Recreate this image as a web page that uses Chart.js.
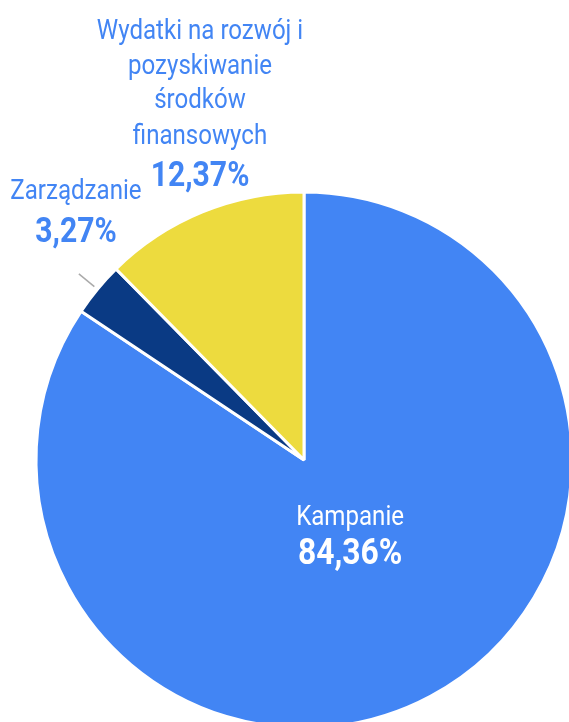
<!DOCTYPE html>
<html><head><meta charset="utf-8">
<script src="https://cdn.jsdelivr.net/npm/chart.js@4"></script>
<style>
html,body{margin:0;padding:0;background:#fff;}
#wrap{width:569px;height:722px;overflow:hidden;position:relative;}
canvas{display:block;}
</style></head>
<body><div id="wrap"><canvas id="c" width="620" height="760"></canvas></div>
<script>
const categories = ["Kampanie", "Zarządzanie", "Wydatki na rozwój i pozyskiwanie środków finansowych"];
const values = [84.36, 3.27, 12.37];
const labelLines = [["Kampanie"], ["Zarządzanie"], ["Wydatki na rozwój i", "pozyskiwanie", "środków", "finansowych"]];
const percentLabels = ["84,36%", "3,27%", "12,37%"];
const colors = ["#4285F4", "#0A3A84", "#EDDB3E"];

const FONT = "Roboto, 'Noto Sans', sans-serif";
// label placement relative to arc centre (in radius units) and line spacing in px
const place = [
  {fx: 0.172, fy: 0.216, lines: [0], pct: 37, color: "#ffffff", pctSize: 37},
  {fx: -0.851, fy: -1.0, lines: [0], pct: 41, color: "#4285F4", leader: true, pctSize: 35},
  {fx: -0.388, fy: -1.597, lines: [0, 35, 69, 105], pct: 145, color: "#4285F4", pctSize: 35}
];

function condensedText(ctx, t, x, y, sx) {
  ctx.save();
  ctx.translate(x, y);
  ctx.scale(sx, 1);
  ctx.fillText(t, 0, 0);
  ctx.restore();
}

const labelPlugin = {
  id: 'pieLabels',
  afterDatasetsDraw(chart) {
    const ctx = chart.ctx;
    const meta = chart.getDatasetMeta(0);
    meta.data.forEach((arc, i) => {
      const cx = arc.x, cy = arc.y, r = arc.outerRadius;
      const p = place[i];
      const ax = cx + p.fx * r, ay = cy + p.fy * r;
      ctx.save();
      if (p.leader) {
        const mid = (arc.startAngle + arc.endAngle) / 2;
        ctx.strokeStyle = "#aaaaaa";
        ctx.lineWidth = 1.5;
        ctx.beginPath();
        ctx.moveTo(cx + Math.cos(mid) * r * 1.015, cy + Math.sin(mid) * r * 1.015);
        ctx.lineTo(cx + Math.cos(mid) * r * 1.09, cy + Math.sin(mid) * r * 1.09);
        ctx.stroke();
      }
      ctx.fillStyle = p.color;
      ctx.textAlign = "center";
      ctx.textBaseline = "middle";
      ctx.font = "400 28px " + FONT;
      labelLines[i].forEach((t, k) => condensedText(ctx, t, ax, ay + p.lines[k], 0.86));
      ctx.font = "700 " + p.pctSize + "px " + FONT;
      condensedText(ctx, percentLabels[i], ax, ay + p.pct, 0.86);
      ctx.restore();
    });
  }
};

new Chart(document.getElementById('c'), {
  type: 'pie',
  data: {
    labels: categories,
    datasets: [{
      data: values,
      backgroundColor: colors,
      borderColor: "#ffffff",
      borderWidth: 3
    }]
  },
  options: {
    responsive: false,
    devicePixelRatio: 1,
    animation: false,
    layout: {padding: {left: 0, right: 12, top: 190.5, bottom: 30.5}},
    plugins: {legend: {display: false}, tooltip: {enabled: false}}
  },
  plugins: [labelPlugin]
});
</script></body></html>
